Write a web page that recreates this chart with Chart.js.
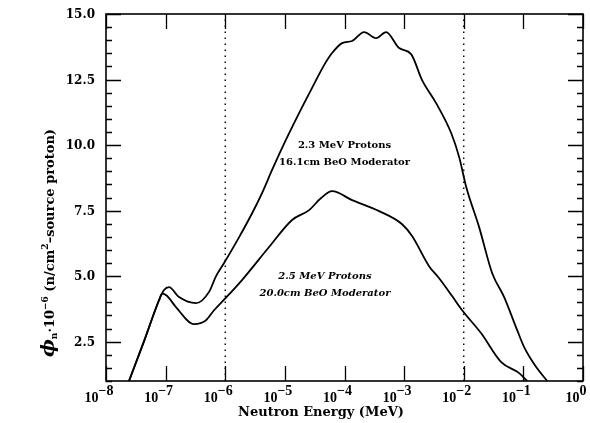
<!DOCTYPE html>
<html><head><meta charset="utf-8">
<script src="https://cdn.jsdelivr.net/npm/chart.js@4/dist/chart.umd.min.js"></script>
<style>html,body{margin:0;padding:0;background:#fff}#wrap{width:590px;height:423px}</style>
</head><body><div id="wrap"><canvas id="c" width="590" height="423"></canvas></div>
<script>
// Neutron energy (MeV) and flux for the 2.3 MeV / 16.1 cm BeO case
const energyA = [2.43e-8,4.35e-8,7.74e-8,9.4e-8,1.14e-7,1.68e-7,3.24e-7,5.35e-7,7.01e-7,9.55e-7,1.71e-6,2.82e-6,4.14e-6,6.10e-6,8.63e-6,1.73e-5,2.86e-5,4.55e-5,6.19e-5,9.12e-5,1.34e-4,2.13e-4,3.39e-4,4.99e-4,8.24e-4,1.31e-3,2.00e-3,3.44e-3,6.15e-3,8.38e-3,1.10e-2,1.81e-2,3.00e-2,4.76e-2,7.87e-2,0.103,0.164,0.251];
const fluxA   = [1.0,2.52,4.08,4.47,4.58,4.2,3.97,4.4,5.0,5.5,6.49,7.40,8.17,9.05,9.81,11.22,12.18,13.05,13.51,13.89,13.97,14.31,14.08,14.31,13.70,13.47,12.48,11.6,10.46,9.54,8.40,6.87,5.11,4.2,2.94,2.29,1.53,1.0];
// 2.5 MeV / 20.0 cm BeO case
const energyB = [2.43e-8,4.35e-8,7.74e-8,8.71e-8,1.05e-7,1.49e-7,3.0e-7,4.76e-7,6.49e-7,9.55e-7,1.91e-6,5.43e-6,1.32e-5,2.55e-5,4.05e-5,6.19e-5,1.34e-4,3.81e-4,9.25e-4,1.36e-3,2.62e-3,3.86e-3,6.38e-3,9.40e-3,1.96e-2,4.25e-2,8.51e-2,0.116];
const fluxB   = [1.0,2.52,4.08,4.33,4.25,3.82,3.17,3.32,3.70,4.1,4.85,6.11,7.14,7.52,7.98,8.24,7.90,7.48,6.98,6.53,5.38,4.92,4.24,3.70,2.82,1.72,1.30,1.0];
const xTicks = [1e-8,1e-7,1e-6,1e-5,1e-4,1e-3,1e-2,1e-1,1];
const xTickExponents = ['\u22128','\u22127','\u22126','\u22125','\u22124','\u22123','\u22122','\u22121','0'];
const yTicks = [2.5,5,7.5,10,12.5,15];
const yTickLabels = ['2.5','5.0','7.5','10.0','12.5','15.0'];
const refEnergies = [1e-6,1e-2];
const noteTexts = ['2.3 MeV Protons','16.1cm BeO Moderator','2.5 MeV Protons','20.0cm BeO Moderator'];
const noteE = [1.0e-4,1.0e-4,4.7e-5,4.7e-5];
const noteV = [10.0,9.35,5.0,4.35];
const noteItalic = [false,false,true,true];

const toPts = (xs, ys) => xs.map((x,i)=>({x:x, y:ys[i]}));
const datasets = [
  {data: toPts(energyA, fluxA), borderColor:'#000', borderWidth:1.8, pointRadius:0, cubicInterpolationMode:'monotone'},
  {data: toPts(energyB, fluxB), borderColor:'#000', borderWidth:1.8, pointRadius:0, cubicInterpolationMode:'monotone'}
];
refEnergies.forEach(e => datasets.push({data:[{x:e,y:1},{x:e,y:15}], borderColor:'#000', borderWidth:1.4, borderDash:[1.5,4.5], pointRadius:0}));

const SERIF = '"DejaVu Serif", serif';
const LSERIF = '"Liberation Serif", serif';

function drawParts(ctx, parts, x0, y0, align) {
  let total = 0;
  parts.forEach(p => { ctx.font = p.f; p.w = ctx.measureText(p.t).width; total += p.w; });
  let x = align === 'center' ? x0 - total/2 : x0;
  parts.forEach(p => { ctx.font = p.f; ctx.fillText(p.t, x, y0 + (p.dy||0)); x += p.w; });
}

const decor = {
  id:'decor',
  afterDraw(chart) {
    const ctx = chart.ctx, a = chart.chartArea, xs = chart.scales.x, ys = chart.scales.y;
    ctx.save();
    ctx.strokeStyle = '#000'; ctx.fillStyle = '#000';
    ctx.lineWidth = 1.6;
    ctx.strokeRect(a.left, a.top, a.right - a.left, a.bottom - a.top);
    ctx.lineWidth = 1.3;
    for (let v = 1; v <= 15.001; v += 0.5) {
      const y = Math.round(ys.getPixelForValue(v)) + 0.5;
      const major = yTicks.some(t => Math.abs(t - v) < 1e-6);
      const L = major ? 15 : 6;
      ctx.beginPath();
      ctx.moveTo(a.left, y); ctx.lineTo(a.left + L, y);
      ctx.moveTo(a.right, y); ctx.lineTo(a.right - L, y);
      ctx.stroke();
    }
    xTicks.forEach(t => {
      const x = Math.round(xs.getPixelForValue(t)) + 0.5;
      ctx.beginPath();
      ctx.moveTo(x, a.bottom); ctx.lineTo(x, a.bottom - 15);
      ctx.moveTo(x, a.top); ctx.lineTo(x, a.top + 15);
      ctx.stroke();
    });
    ctx.font = 'bold 12px ' + SERIF;
    ctx.textAlign = 'right'; ctx.textBaseline = 'middle';
    yTicks.forEach((t,i) => ctx.fillText(yTickLabels[i], a.left - 11, ys.getPixelForValue(t) + 1));
    ctx.textAlign = 'left'; ctx.textBaseline = 'alphabetic';
    xTicks.forEach((t,i) => {
      const x = xs.getPixelForValue(t) - 7;
      drawParts(ctx, [
        {t:'10', f:'bold 14px ' + LSERIF},
        {t:xTickExponents[i], f:'bold 14px ' + LSERIF, dy:-7}
      ], x, 402, 'center');
    });
    ctx.font = 'bold 13px ' + SERIF;
    ctx.textAlign = 'center';
    ctx.fillText('Neutron Energy (MeV)', 321, 416);
    ctx.save();
    ctx.translate(54, 243);
    ctx.rotate(-Math.PI/2);
    ctx.textAlign = 'left';
    drawParts(ctx, [
      {t:'\u03d5', f:'italic bold 19px ' + SERIF},
      {t:'n', f:'bold 9px ' + SERIF, dy:3},
      {t:'\u00b710', f:'bold 13px ' + SERIF},
      {t:'\u22126', f:'bold 9px ' + SERIF, dy:-6},
      {t:' (n/cm', f:'bold 13px ' + SERIF},
      {t:'2', f:'bold 9px ' + SERIF, dy:-6},
      {t:'\u2013source proton)', f:'bold 13px ' + SERIF}
    ], 0, 0, 'center');
    ctx.restore();
    ctx.textAlign = 'center'; ctx.textBaseline = 'middle';
    noteTexts.forEach((s,i) => {
      ctx.font = (noteItalic[i] ? 'italic ' : '') + 'bold 10px ' + SERIF;
      ctx.fillText(s, xs.getPixelForValue(noteE[i]), ys.getPixelForValue(noteV[i]));
    });
    ctx.restore();
  }
};

new Chart(document.getElementById('c'), {
  type:'line',
  data:{datasets},
  options:{
    responsive:false, animation:false, devicePixelRatio:1,
    layout:{padding:{top:14, right:7, left:0, bottom:0}},
    plugins:{legend:{display:false}, tooltip:{enabled:false}},
    scales:{
      x:{type:'logarithmic', min:1e-8, max:1, grid:{display:false}, border:{display:false}, ticks:{display:false}, afterFit(s){ s.height = 42; }},
      y:{type:'linear', min:1, max:15, grid:{display:false}, border:{display:false}, ticks:{display:false}, afterFit(s){ s.width = 106; }}
    }
  },
  plugins:[decor]
});
</script></body></html>
